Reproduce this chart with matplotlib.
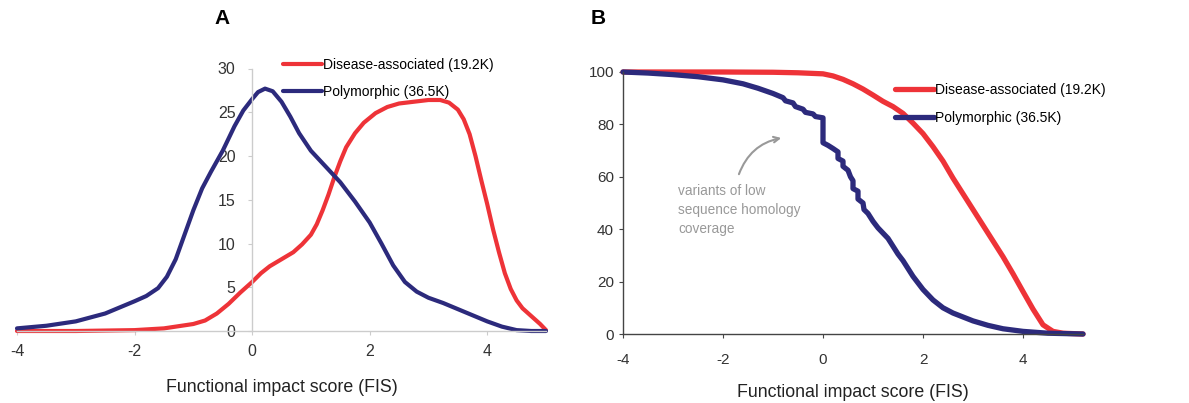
import matplotlib.pyplot as plt
import numpy as np

plt.rcParams['font.family'] = ['Liberation Sans', 'DejaVu Sans']
plt.rcParams['axes.unicode_minus'] = False

# Panel A: density of FIS
a_dis_x = [-4.0, -3.0, -2.0, -1.5, -1.0, -0.8, -0.6, -0.4, -0.2, 0.0, 0.15, 0.3, 0.5, 0.7, 0.85,
           1.0, 1.1, 1.2, 1.3, 1.4, 1.5, 1.6, 1.75, 1.9, 2.1, 2.3, 2.5, 2.75, 3.0, 3.2, 3.35,
           3.5, 3.6, 3.7, 3.8, 3.9, 4.0, 4.1, 4.2, 4.3, 4.4, 4.5, 4.6, 4.75, 4.9, 5.0]
a_dis_y = [0.0, 0.0, 0.1, 0.3, 0.8, 1.2, 2.0, 3.1, 4.4, 5.6, 6.6, 7.4, 8.2, 9.0, 9.9,
           11.0, 12.2, 13.8, 15.6, 17.6, 19.4, 21.0, 22.6, 23.8, 24.9, 25.6, 26.0, 26.2, 26.4, 26.4, 26.1,
           25.3, 24.2, 22.5, 20.0, 17.2, 14.5, 11.6, 9.0, 6.6, 4.8, 3.5, 2.6, 1.7, 0.8, 0.1]
a_pol_x = [-4.0, -3.5, -3.0, -2.5, -2.0, -1.8, -1.6, -1.45, -1.3, -1.15, -1.0, -0.85, -0.7, -0.5,
           -0.3, -0.15, 0.0, 0.1, 0.22, 0.35, 0.5, 0.65, 0.8, 1.0, 1.25, 1.5, 1.75, 2.0, 2.2, 2.4,
           2.6, 2.8, 3.0, 3.25, 3.5, 3.75, 4.0, 4.25, 4.5, 4.75, 5.0]
a_pol_y = [0.3, 0.6, 1.1, 2.0, 3.4, 4.0, 4.9, 6.2, 8.2, 11.0, 13.8, 16.3, 18.2, 20.6,
           23.4, 25.2, 26.5, 27.3, 27.7, 27.4, 26.2, 24.5, 22.6, 20.6, 18.8, 17.0, 14.8, 12.4, 10.0, 7.5,
           5.6, 4.5, 3.8, 3.2, 2.5, 1.8, 1.1, 0.5, 0.1, 0.0, 0.0]

# Panel B: cumulative percentage with FIS >= x
b_dis_x = [-4.0, -2.0, -1.0, -0.5, 0.0, 0.2, 0.4, 0.6, 0.8, 1.0, 1.2, 1.4, 1.6, 1.8, 2.0, 2.2,
           2.4, 2.6, 2.8, 3.0, 3.2, 3.4, 3.6, 3.8, 4.0, 4.2, 4.4, 4.6, 4.8, 5.2]
b_dis_y = [100, 100, 99.9, 99.7, 99.3, 98.5, 97.2, 95.5, 93.5, 91.2, 88.8, 86.8, 84.2, 80.5, 76.5, 71.5,
           66, 59.5, 53.5, 47.5, 41.5, 35.5, 29.5, 23, 16.2, 9.5, 3.5, 1.0, 0.3, 0.0]
b_pol_x = [-4.0, -3.5, -3.0, -2.5, -2.0, -1.6, -1.3, -1.0, -0.8, -0.75, -0.6, -0.55, -0.4, -0.35,
           -0.2, -0.15, 0.0, 0.0, 0.1, 0.2, 0.3, 0.3, 0.4, 0.4, 0.5, 0.55, 0.6, 0.6, 0.7, 0.7, 0.8,
           0.82, 0.9, 1.0, 1.1, 1.2, 1.3, 1.4, 1.5, 1.6, 1.7, 1.8, 1.9, 2.0, 2.2, 2.4, 2.6, 2.8, 3.0,
           3.3, 3.6, 4.0, 4.5, 5.2]
b_pol_y = [100, 99.6, 99.0, 98.2, 97.0, 95.5, 93.8, 91.8, 90.2, 89.0, 88.2, 86.8, 85.8, 84.6,
           84.0, 83.0, 82.5, 73.0, 72.0, 70.8, 69.5, 67.0, 66.0, 64.0, 62.5, 60.0, 58.5, 55.5, 54.5, 51.5, 50.0,
           47.5, 46.0, 43.0, 40.5, 38.5, 36.5, 33.5, 30.5, 28.0, 25.0, 22.0, 19.5, 17.0, 13.0, 10.0, 8.0, 6.5, 5.0,
           3.3, 2.0, 1.0, 0.3, 0.0]

labels = ['Disease-associated (19.2K)', 'Polymorphic (36.5K)']
red = '#ee3338'
blue = '#2c2a7c'

fig = plt.figure(figsize=(11.89, 4.03), dpi=100)

# ---- Panel A ----
axA = fig.add_axes([17 / 1189, 72 / 403, 529 / 1189, 262.5 / 403])
axA.plot(a_dis_x, a_dis_y, color=red, lw=3.0, label=labels[0], clip_on=False, solid_capstyle='round')
axA.plot(a_pol_x, a_pol_y, color=blue, lw=3.0, label=labels[1], clip_on=False, solid_capstyle='round')
axA.set_xlim(-4, 5)
axA.set_ylim(0, 30)
axA.spines['left'].set_position(('data', 0))
for s in ['top', 'right']:
    axA.spines[s].set_visible(False)
for s in ['left', 'bottom']:
    axA.spines[s].set_color('#cccccc')
    axA.spines[s].set_linewidth(1)
axA.set_xticks([-4, -2, 0, 2, 4])
axA.set_yticks([0, 5, 10, 15, 20, 25, 30])
axA.tick_params(axis='both', colors='#cccccc', labelcolor='#333333', labelsize=11.5, length=3)
axA.tick_params(axis='x', pad=6)
axA.tick_params(axis='y', pad=9)
axA.set_xlabel('Functional impact score (FIS)', fontsize=12.8, color='#222222', labelpad=15)
axA.legend(loc='upper left', bbox_to_anchor=(283 / 1189, 1 - 58 / 403), bbox_transform=fig.transFigure,
           frameon=False, fontsize=10, handlelength=2.8, handletextpad=0.1, labelspacing=0.95,
           borderpad=0, borderaxespad=0)
fig.text(222 / 1189, 1 - 18 / 403, 'A', fontsize=15, fontweight='bold', ha='center', va='center')

# ---- Panel B ----
axB = fig.add_axes([623 / 1189, 69 / 403, 460 / 1189, 262 / 403])
axB.plot(b_dis_x, b_dis_y, color=red, lw=3.8, label=labels[0], clip_on=False, solid_capstyle='round')
axB.plot(b_pol_x, b_pol_y, color=blue, lw=3.8, label=labels[1], clip_on=False, solid_capstyle='round')
axB.set_xlim(-4, 5.2)
axB.set_ylim(0, 100)
for s in ['top', 'right']:
    axB.spines[s].set_visible(False)
for s in ['left', 'bottom']:
    axB.spines[s].set_color('#444444')
    axB.spines[s].set_linewidth(1)
axB.set_xticks([-4, -2, 0, 2, 4])
axB.set_yticks([0, 20, 40, 60, 80, 100])
axB.tick_params(axis='both', colors='#444444', labelcolor='#333333', labelsize=11, length=3)
axB.tick_params(axis='x', pad=11)
axB.set_xlabel('Functional impact score (FIS)', fontsize=12.8, color='#222222', labelpad=12)
axB.legend(loc='upper left', bbox_to_anchor=(895 / 1189, 1 - 83 / 403), bbox_transform=fig.transFigure,
           frameon=False, fontsize=10, handlelength=2.8, handletextpad=0.1, labelspacing=1.0,
           borderpad=0, borderaxespad=0)
fig.text(598 / 1189, 1 - 18 / 403, 'B', fontsize=15, fontweight='bold', ha='center', va='center')

axB.annotate('', xy=(-0.78, 75), xytext=(-1.7, 60),
             arrowprops=dict(arrowstyle='->', color='#999999', lw=1.5,
                             connectionstyle='arc3,rad=-0.3'))
axB.text(-2.9, 57.2, 'variants of low\nsequence homology\ncoverage', color='#999999',
         fontsize=9.8, ha='left', va='top', linespacing=1.45)

fig.savefig('out.png', dpi=100)
